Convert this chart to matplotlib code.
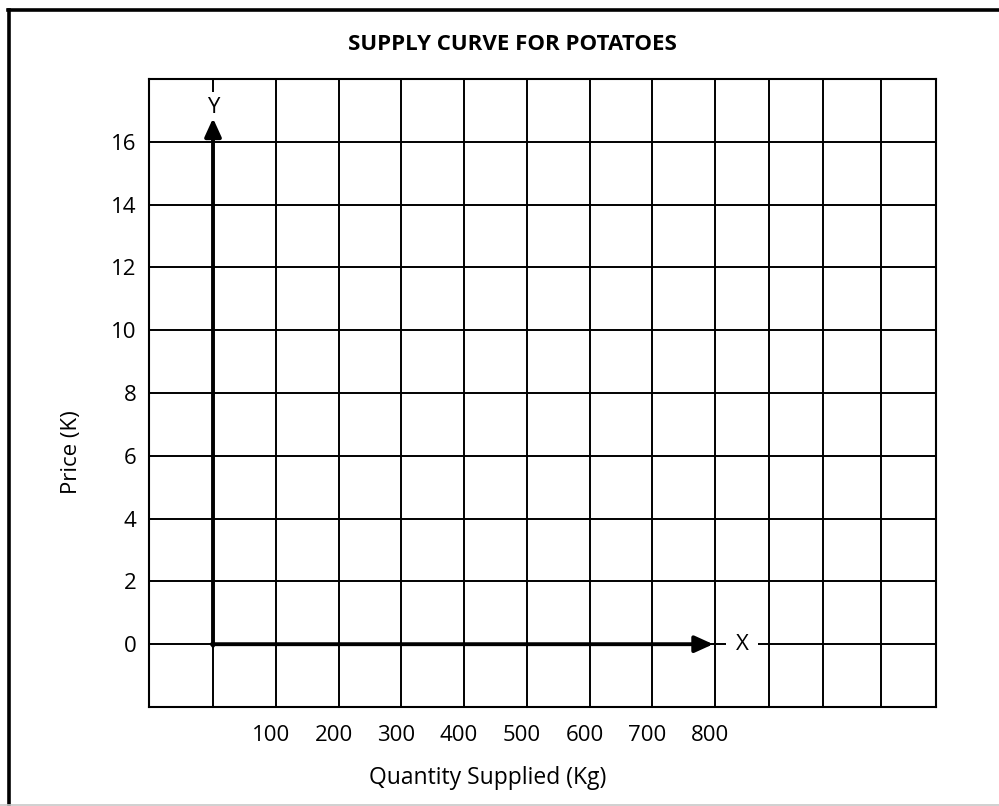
#Blank supply curve grid for potatoes (price vs quantity)
import matplotlib
matplotlib.use("Agg")
import matplotlib.pyplot as plt
from matplotlib.lines import Line2D
from matplotlib.transforms import ScaledTranslation

plt.rcParams['font.family'] = ['Open Sans', 'DejaVu Sans']

title = "SUPPLY CURVE FOR POTATOES"
x_label = "Quantity Supplied (Kg)"
y_label = "Price (K)"

qty_ticks = [100, 200, 300, 400, 500, 600, 700, 800]
price_ticks = [0, 2, 4, 6, 8, 10, 12, 14, 16]

# grid columns (kg) - the right part of the hand drawn grid is a bit narrower
grid_cols = [0, 100, 200, 300, 400, 500, 600, 700, 800, 886, 972, 1064]

W, H = 999, 806
fig = plt.figure(figsize=(W / 100, H / 100), dpi=100)
ax = fig.add_axes([149 / W, 1 - 707 / H, (936 - 149) / W, (707 - 79) / H])
ax.set_xlim(-102, 1152)
ax.set_ylim(-2, 18)

for s in ax.spines.values():
    s.set_linewidth(1.5)
    s.set_color('black')

for v in grid_cols:
    ax.axvline(v, color='black', lw=1.4, zorder=1)
for p in price_ticks:
    ax.axhline(p, color='black', lw=1.4, zorder=1)

# axis names sitting on the grid
ax.text(0, 16.91, "Y", ha='center', va='baseline', fontsize=16, zorder=3,
        bbox=dict(boxstyle='square,pad=0.25', fc='white', ec='none'))
ax.text(843, 0, "X", ha='center', va='center', fontsize=16, zorder=3,
        bbox=dict(boxstyle='square,pad=0.42', fc='white', ec='none'))

# thick axes arrows
arrow = dict(arrowstyle='-|>,head_length=0.55,head_width=0.25', lw=2.8,
             color='black', shrinkA=0, shrinkB=0, mutation_scale=20)
ax.annotate('', xy=(0, 16.75), xytext=(0, -0.05), arrowprops=arrow, zorder=4)
ax.annotate('', xy=(797, 0), xytext=(-2, 0), arrowprops=arrow, zorder=4)

ax.set_xticks(qty_ticks)
ax.set_xticklabels([str(q) for q in qty_ticks], fontsize=16)
ax.set_yticks(price_ticks)
ax.set_yticklabels([str(p) for p in price_ticks], fontsize=16)
ax.tick_params(axis='both', length=0)
ax.tick_params(axis='x', pad=13)
ax.tick_params(axis='y', pad=9)
for lbl in ax.get_xticklabels():
    lbl.set_transform(lbl.get_transform() + ScaledTranslation(-5 / 100, 0, fig.dpi_scale_trans))

fig.text(512 / W, 1 - 44 / H, title, ha='center', va='center', fontsize=16, fontweight='bold')
fig.text(488 / W, 1 - 778 / H, x_label, ha='center', va='center', fontsize=16.5)
fig.text(72 / W, 1 - 452 / H, y_label, ha='center', va='center', fontsize=16, rotation=90)

# outer frame
fig.add_artist(Line2D([8.5 / W, 8.5 / W], [0, 1 - 10 / H], transform=fig.transFigure, lw=2.6, color='black'))
fig.add_artist(Line2D([7.5 / W, 1], [1 - 10 / H, 1 - 10 / H], transform=fig.transFigure, lw=2.6, color='black'))
fig.add_artist(Line2D([0, 1], [1 - 805 / H, 1 - 805 / H], transform=fig.transFigure, lw=1.2, color='#c8c8c8'))

fig.savefig("out.png", dpi=100)
